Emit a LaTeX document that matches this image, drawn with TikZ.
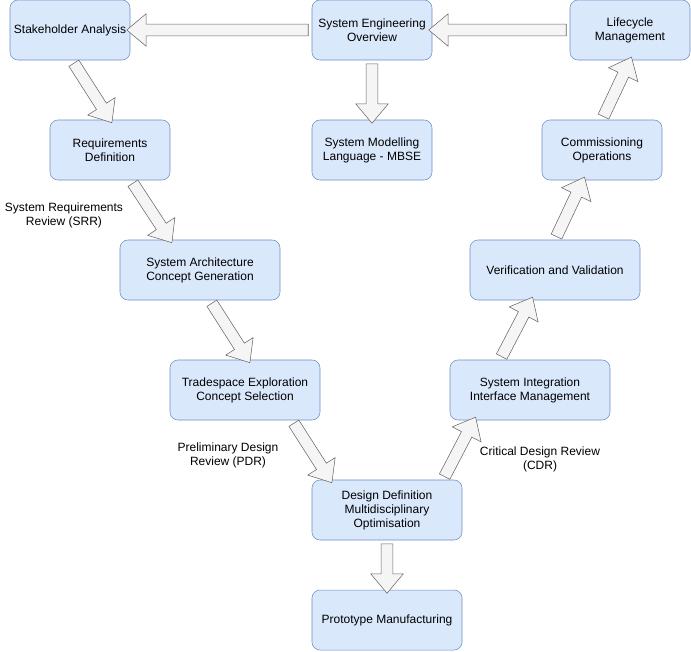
\documentclass[tikz,border=0pt]{standalone}
\usepackage{fontspec}
\setmainfont{Liberation Sans}
\usetikzlibrary{shapes.arrows,calc}
\definecolor{boxfill}{HTML}{DAE8FC}
\definecolor{boxline}{HTML}{6C8EBF}
\definecolor{arrowfill}{HTML}{F5F5F5}
\definecolor{arrowline}{HTML}{666666}
\tikzset{
  stage/.style={draw=boxline, fill=boxfill, rounded corners=6, minimum height=45pt,
    align=center, inner sep=2pt, font=\fontsize{9}{10.5}\selectfont},
  review/.style={align=center, font=\fontsize{9}{10.5}\selectfont},
  flow/.style={single arrow, draw=arrowline, fill=arrowfill, inner xsep=0pt, inner ysep=4.2pt,
    outer sep=0pt, single arrow head extend=7.8pt, single arrow tip angle=80}
}
% block arrow from #1 to #2
\newcommand\blockarrow[2]{%
  \path let \p1=(#1), \p2=(#2), \n1={atan2(\y2-\y1,\x2-\x1)}, \n2={veclen(\x2-\x1,\y2-\y1)} in
    ($(#1)!0.5!(#2)$) node[flow, minimum height=\n2, rotate=\n1] {};}
\begin{document}
\begin{tikzpicture}[x=0.75pt, y=-0.75pt]
\useasboundingbox (0,0) rectangle (691,651);
\node[stage, minimum width=90pt] (stake) at (70,30) {Stakeholder Analysis};
\node[stage, minimum width=90pt] (overview) at (372,30) {System Engineering\\Overview};
\node[stage, minimum width=90pt] (lifecycle) at (630,30) {Lifecycle\\Management};
\node[stage, minimum width=90pt] (reqs) at (110,150) {Requirements\\Definition};
\node[stage, minimum width=90pt] (mbse) at (372,150) {System Modelling\\Language - MBSE};
\node[stage, minimum width=90pt] (commis) at (602,150) {Commissioning\\Operations};
\node[stage, minimum width=120pt] (arch) at (200,270) {System Architecture\\Concept Generation};
\node[stage, minimum width=127.5pt] (verif) at (555,270) {Verification and Validation};
\node[stage, minimum width=112.5pt] (trade) at (245,390) {Tradespace Exploration\\Concept Selection};
\node[stage, minimum width=120pt] (integ) at (530,390) {System Integration\\Interface Management};
\node[stage, minimum width=112.5pt] (design) at (387,510) {Design Definition\\Multidisciplinary\\Optimisation};
\node[stage, minimum width=112.5pt] (proto) at (387,620) {Prototype Manufacturing};
\node[review] (srr) at (64,215) {System Requirements\\Review (SRR)};
\node[review] (pdr) at (228,455) {Preliminary Design\\Review (PDR)};
\node[review] (cdr) at (540,459) {Critical Design Review\\(CDR)};
% top row and the branches
\blockarrow{overview.west}{stake.east}
\blockarrow{lifecycle.west}{overview.east}
\blockarrow{overview.south}{mbse.north}
\blockarrow{design.south}{proto.north}
% down the left side of the V
\blockarrow{$(stake.south)+(2,0)$}{reqs.north}
\blockarrow{$(reqs.south)+(21,0)$}{$(arch.north)+(-30,0)$}
\blockarrow{$(arch.south)+(10,0)$}{$(trade.north)+(3,0)$}
\blockarrow{$(trade.south)+(47,0)$}{$(design.north)+(-57,0)$}
% up the right side of the V
\blockarrow{$(design.north)+(56,0)$}{$(integ.south)+(-56,0)$}
\blockarrow{$(integ.north)+(-30,0)$}{$(verif.south)+(-24,0)$}
\blockarrow{verif.north}{$(commis.south)+(-19,0)$}
\blockarrow{commis.north}{lifecycle.south}
\end{tikzpicture}
\end{document}
